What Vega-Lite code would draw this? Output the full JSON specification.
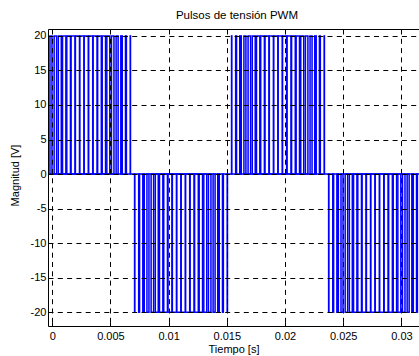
{
  "$schema": "https://vega.github.io/schema/vega-lite/v6.json",
  "autosize": {"type": "none"},
  "padding": {"left": 48, "top": 29, "right": 0, "bottom": 30},
  "width": 371,
  "height": 297,
  "background": "white",
  "config": {
    "view": {"stroke": null},
    "font": "Liberation Sans",
    "axis": {
      "labelFont": "Liberation Sans", "labelFontSize": 11, "labelColor": "black",
      "titleFont": "Liberation Sans", "titleFontSize": 11, "titleFontWeight": "normal", "titleColor": "black",
      "domainColor": "black", "domainWidth": 1, "tickColor": "black", "tickWidth": 1,
      "gridColor": "black", "gridOpacity": 1, "gridWidth": 1, "gridDash": [5, 4.3]
    }
  },
  "title": {"text": "Pulsos de tensión PWM", "font": "Liberation Sans", "fontSize": 11.5, "fontWeight": "normal", "color": "black", "dx": 3.5, "offset": 7},
  "layer": [
    {
      "data": {"values": [{"a": -0.001, "b": 0.034, "z": 0}]},
      "mark": {"type": "rule", "color": "#0000ff", "strokeWidth": 1.5, "clip": true},
      "encoding": {
        "x": {"field": "a", "type": "quantitative", "scale": {"domain": [-0.00036, 0.03151], "nice": false, "zero": false},
              "axis": {"orient": "top", "labels": false, "title": null, "grid": false, "tickSize": -4, "values": [0, 0.005, 0.01, 0.015, 0.02, 0.025, 0.03], "zindex": 1}},
        "x2": {"field": "b"},
        "y": {"field": "z", "type": "quantitative", "scale": {"domain": [-22, 21], "nice": false, "zero": false},
              "axis": {"orient": "left", "title": "Magnitud [V]", "titleX": -33, "titleY": 146, "titleBaseline": "middle", "grid": true, "tickSize": -4, "labelPadding": 6, "values": [-20, -15, -10, -5, 0, 5, 10, 15, 20], "labelExpr": "datum.value + ''", "labelFlush": false, "labelOverlap": false, "zindex": 1}}
      }
    },
    {
      "data": {"values": [
        {"a": -0.000546, "b": -0.000420, "v": 20},
        {"a": -0.000191, "b": -0.000018, "v": 20},
        {"a": 0.000167, "b": 0.000383, "v": 20},
        {"a": 0.000526, "b": 0.000781, "v": 20},
        {"a": 0.000888, "b": 0.001176, "v": 20},
        {"a": 0.001253, "b": 0.001569, "v": 20},
        {"a": 0.001621, "b": 0.001959, "v": 20},
        {"a": 0.001993, "b": 0.002345, "v": 20},
        {"a": 0.002368, "b": 0.002727, "v": 20},
        {"a": 0.002747, "b": 0.003106, "v": 20},
        {"a": 0.003129, "b": 0.003481, "v": 20},
        {"a": 0.003515, "b": 0.003853, "v": 20},
        {"a": 0.003905, "b": 0.004221, "v": 20},
        {"a": 0.004297, "b": 0.004586, "v": 20},
        {"a": 0.004693, "b": 0.004948, "v": 20},
        {"a": 0.005091, "b": 0.005307, "v": 20},
        {"a": 0.005492, "b": 0.005664, "v": 20},
        {"a": 0.005894, "b": 0.006020, "v": 20},
        {"a": 0.006297, "b": 0.006374, "v": 20},
        {"a": 0.006701, "b": 0.006727, "v": 20},
        {"a": 0.007077, "b": 0.007102, "v": -20},
        {"a": 0.007430, "b": 0.007507, "v": -20},
        {"a": 0.007784, "b": 0.007910, "v": -20},
        {"a": 0.008140, "b": 0.008312, "v": -20},
        {"a": 0.008497, "b": 0.008713, "v": -20},
        {"a": 0.008856, "b": 0.009111, "v": -20},
        {"a": 0.009218, "b": 0.009506, "v": -20},
        {"a": 0.009583, "b": 0.009899, "v": -20},
        {"a": 0.009951, "b": 0.010289, "v": -20},
        {"a": 0.010323, "b": 0.010675, "v": -20},
        {"a": 0.010698, "b": 0.011057, "v": -20},
        {"a": 0.011077, "b": 0.011436, "v": -20},
        {"a": 0.011459, "b": 0.011811, "v": -20},
        {"a": 0.011845, "b": 0.012183, "v": -20},
        {"a": 0.012235, "b": 0.012551, "v": -20},
        {"a": 0.012627, "b": 0.012916, "v": -20},
        {"a": 0.013023, "b": 0.013278, "v": -20},
        {"a": 0.013421, "b": 0.013637, "v": -20},
        {"a": 0.013822, "b": 0.013994, "v": -20},
        {"a": 0.014224, "b": 0.014350, "v": -20},
        {"a": 0.014627, "b": 0.014704, "v": -20},
        {"a": 0.015031, "b": 0.015057, "v": -20},
        {"a": 0.015407, "b": 0.015432, "v": 20},
        {"a": 0.015760, "b": 0.015837, "v": 20},
        {"a": 0.016114, "b": 0.016240, "v": 20},
        {"a": 0.016470, "b": 0.016642, "v": 20},
        {"a": 0.016827, "b": 0.017043, "v": 20},
        {"a": 0.017186, "b": 0.017441, "v": 20},
        {"a": 0.017548, "b": 0.017836, "v": 20},
        {"a": 0.017913, "b": 0.018229, "v": 20},
        {"a": 0.018281, "b": 0.018619, "v": 20},
        {"a": 0.018653, "b": 0.019005, "v": 20},
        {"a": 0.019028, "b": 0.019387, "v": 20},
        {"a": 0.019407, "b": 0.019766, "v": 20},
        {"a": 0.019789, "b": 0.020141, "v": 20},
        {"a": 0.020175, "b": 0.020513, "v": 20},
        {"a": 0.020565, "b": 0.020881, "v": 20},
        {"a": 0.020957, "b": 0.021246, "v": 20},
        {"a": 0.021353, "b": 0.021608, "v": 20},
        {"a": 0.021751, "b": 0.021967, "v": 20},
        {"a": 0.022152, "b": 0.022324, "v": 20},
        {"a": 0.022554, "b": 0.022680, "v": 20},
        {"a": 0.022957, "b": 0.023034, "v": 20},
        {"a": 0.023361, "b": 0.023387, "v": 20},
        {"a": 0.023747, "b": 0.023772, "v": -20},
        {"a": 0.024100, "b": 0.024177, "v": -20},
        {"a": 0.024454, "b": 0.024580, "v": -20},
        {"a": 0.024810, "b": 0.024982, "v": -20},
        {"a": 0.025167, "b": 0.025383, "v": -20},
        {"a": 0.025526, "b": 0.025781, "v": -20},
        {"a": 0.025888, "b": 0.026176, "v": -20},
        {"a": 0.026253, "b": 0.026569, "v": -20},
        {"a": 0.026621, "b": 0.026959, "v": -20},
        {"a": 0.026993, "b": 0.027345, "v": -20},
        {"a": 0.027368, "b": 0.027727, "v": -20},
        {"a": 0.027747, "b": 0.028106, "v": -20},
        {"a": 0.028129, "b": 0.028481, "v": -20},
        {"a": 0.028515, "b": 0.028853, "v": -20},
        {"a": 0.028905, "b": 0.029221, "v": -20},
        {"a": 0.029297, "b": 0.029586, "v": -20},
        {"a": 0.029693, "b": 0.029948, "v": -20},
        {"a": 0.030091, "b": 0.030307, "v": -20},
        {"a": 0.030492, "b": 0.030664, "v": -20},
        {"a": 0.030894, "b": 0.031020, "v": -20},
        {"a": 0.031297, "b": 0.031374, "v": -20},
        {"a": 0.031701, "b": 0.031727, "v": -20}
      ]},
      "mark": {"type": "rect", "fillOpacity": 0, "stroke": "#0000ff", "strokeWidth": 1.5, "clip": true},
      "encoding": {
        "x": {"field": "a", "type": "quantitative", "scale": {"domain": [-0.00036, 0.03151], "nice": false, "zero": false},
              "axis": {"orient": "bottom", "title": "Tiempo [s]", "titlePadding": 2, "grid": true, "tickSize": -4, "labelPadding": 8, "values": [0, 0.005, 0.01, 0.015, 0.02, 0.025, 0.03], "labelExpr": "datum.value + ''", "labelFlush": false, "labelOverlap": false, "zindex": 1}},
        "x2": {"field": "b"},
        "y": {"field": "v", "type": "quantitative", "scale": {"domain": [-22, 21], "nice": false, "zero": false},
              "axis": {"orient": "left", "title": "Magnitud [V]", "titleX": -33, "titleY": 146, "titleBaseline": "middle", "grid": true, "tickSize": -4, "labelPadding": 6, "values": [-20, -15, -10, -5, 0, 5, 10, 15, 20], "labelExpr": "datum.value + ''", "labelFlush": false, "labelOverlap": false, "zindex": 1}},
        "y2": {"datum": 0}
      }
    }
  ],
  "resolve": {"axis": {"x": "independent"}}
}
